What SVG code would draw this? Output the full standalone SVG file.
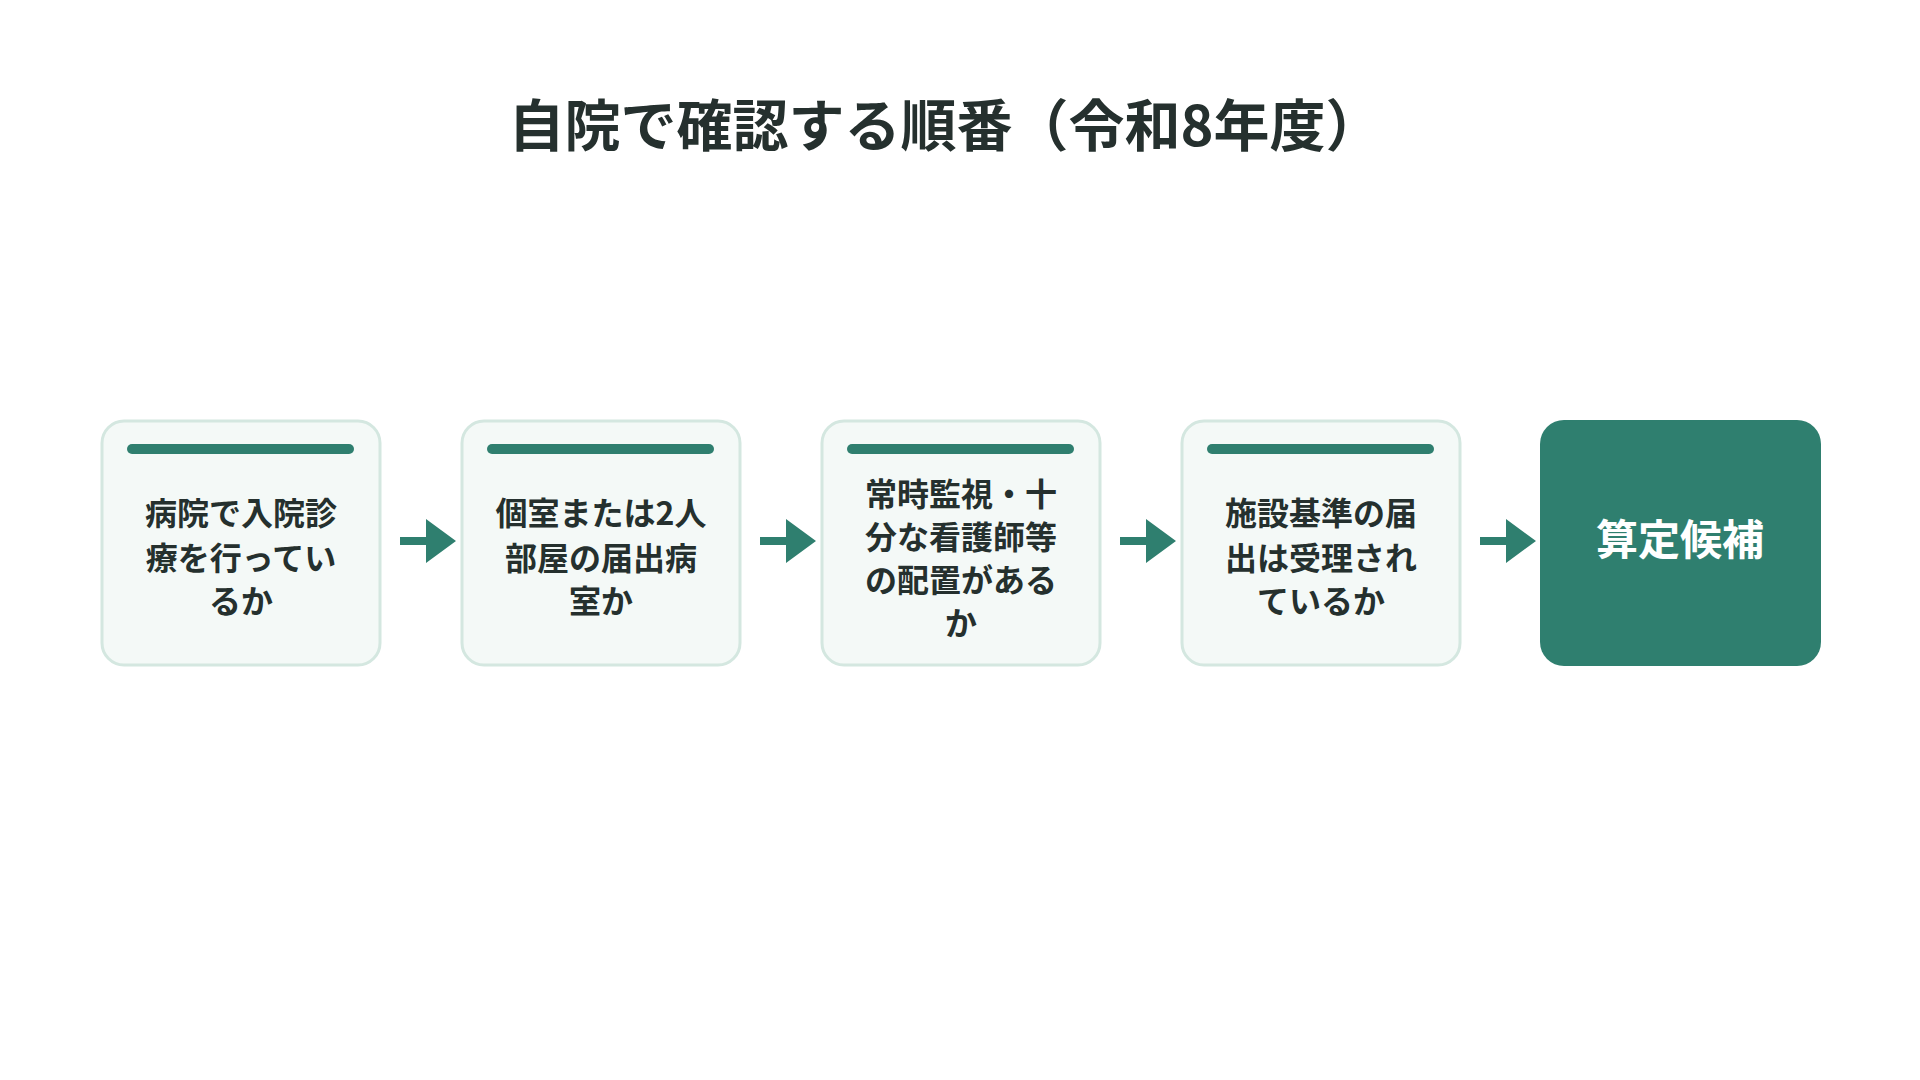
<svg xmlns="http://www.w3.org/2000/svg" width="1920" height="1080" viewBox="0 0 1920 1080">
<style>
.box{fill:#f4f9f7;stroke:#d4e7e0;stroke-width:3}
.bar{fill:#2f7f6f}
.t{font-family:"Noto Sans CJK JP","Noto Sans",sans-serif;font-weight:700;font-size:32px;fill:#25302e;text-anchor:middle}
.title{font-family:"Noto Sans CJK JP","Noto Sans",sans-serif;font-weight:700;font-size:56px;fill:#25302e;text-anchor:middle}
.arr{fill:#2f7f6f}
</style>
<rect width="1920" height="1080" fill="#fff"/>
<text class="title" x="945" y="146">自院で確認する順番（令和8年度）</text>
<g id="n1"><rect class="box" x="102" y="421" width="278" height="244" rx="22"/><rect class="bar" x="127" y="444" width="227" height="10" rx="5"/>
<text class="t" x="241" y="525">病院で入院診</text><text class="t" x="241" y="570">療を行ってい</text><text class="t" x="241" y="613">るか</text></g>
<g id="n2"><rect class="box" x="462" y="421" width="278" height="244" rx="22"/><rect class="bar" x="487" y="444" width="227" height="10" rx="5"/>
<text class="t" x="601" y="525">個室または2人</text><text class="t" x="601" y="570">部屋の届出病</text><text class="t" x="601" y="613">室か</text></g>
<g id="n3"><rect class="box" x="822" y="421" width="278" height="244" rx="22"/><rect class="bar" x="847" y="444" width="227" height="10" rx="5"/>
<text class="t" x="961" y="506">常時監視・十</text><text class="t" x="961" y="549">分な看護師等</text><text class="t" x="961" y="592">の配置がある</text><text class="t" x="961" y="635">か</text></g>
<g id="n4"><rect class="box" x="1182" y="421" width="278" height="244" rx="22"/><rect class="bar" x="1207" y="444" width="227" height="10" rx="5"/>
<text class="t" x="1321" y="525">施設基準の届</text><text class="t" x="1321" y="570">出は受理され</text><text class="t" x="1321" y="613">ているか</text></g>
<g id="n5"><rect x="1540" y="420" width="281" height="246" rx="24" fill="#2f7f6f"/>
<text class="t" x="1680" y="555" style="font-size:42px;fill:#fff">算定候補</text></g>
<g id="connectors">
<path class="arr" d="M400 537h26v-18l30 22-30 22v-18h-26z"/>
<path class="arr" d="M760 537h26v-18l30 22-30 22v-18h-26z"/>
<path class="arr" d="M1120 537h26v-18l30 22-30 22v-18h-26z"/>
<path class="arr" d="M1480 537h26v-18l30 22-30 22v-18h-26z"/>
</g>
</svg>
